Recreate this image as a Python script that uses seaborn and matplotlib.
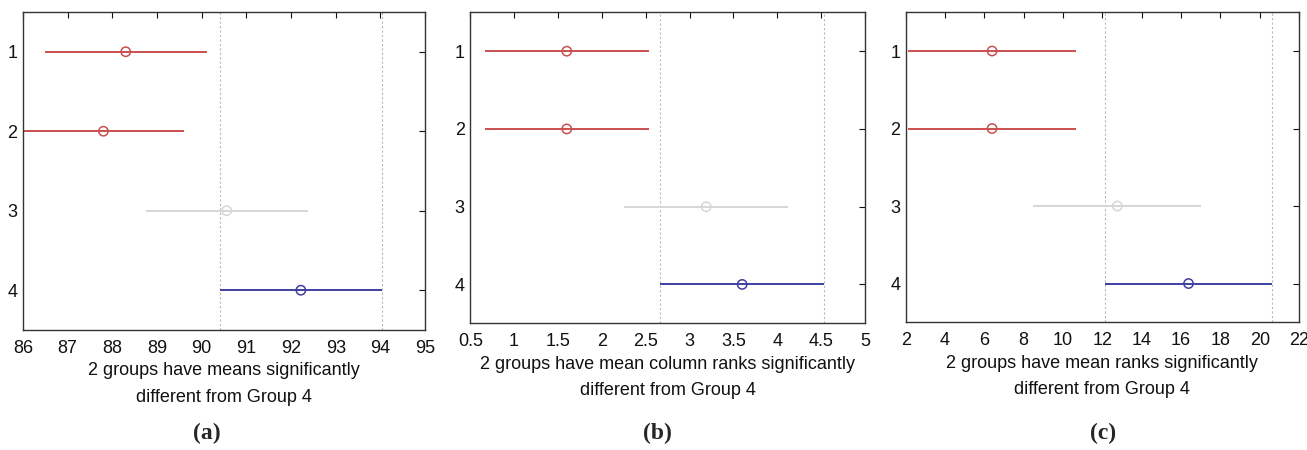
import matplotlib
matplotlib.use("Agg")
import numpy as np
import pandas as pd
import seaborn as sns
import matplotlib.pyplot as plt

# values (means and interval half widths per group)
groups = [1, 2, 3, 4]
a_means = [88.30, 87.80, 90.56, 92.22]
a_half = [1.81, 1.81, 1.81, 1.81]
b_means = [1.60, 1.60, 3.19, 3.60]
b_half = [0.935, 0.935, 0.935, 0.935]
c_means = [6.39, 6.39, 12.76, 16.38]
c_half = [4.27, 4.27, 4.27, 4.27]

a_ticks = [86, 87, 88, 89, 90, 91, 92, 93, 94, 95]
b_ticks = [0.5, 1, 1.5, 2, 2.5, 3, 3.5, 4, 4.5, 5]
c_ticks = [2, 4, 6, 8, 10, 12, 14, 16, 18, 20, 22]

xlabels = ["2 groups have means significantly\ndifferent from Group 4",
           "2 groups have mean column ranks significantly\ndifferent from Group 4",
           "2 groups have mean ranks significantly\ndifferent from Group 4"]
panel_tags = ["(a)", "(b)", "(c)"]

group_colors = {1: "#c9504f", 2: "#c9504f", 3: "#d6d6d6", 4: "#3f3fa3"}

sns.set_style("white")
plt.rcParams["font.family"] = ["Liberation Sans", "DejaVu Sans"]

fig = plt.figure(figsize=(13.07, 4.5), dpi=100)
rects = [[0.0176, 0.2667, 0.3076, 0.7067],
         [0.3598, 0.2816, 0.3020, 0.6910],
         [0.6930, 0.2838, 0.3009, 0.6889]]
tag_x = [207, 657, 1103]

panels = [(a_means, a_half, a_ticks), (b_means, b_half, b_ticks), (c_means, c_half, c_ticks)]
for i, (means, half, ticks) in enumerate(panels):
    ax = fig.add_axes(rects[i])
    df = pd.DataFrame({"group": groups, "mean": means, "half": half})
    df["lo"] = df["mean"] - df["half"]
    df["hi"] = df["mean"] + df["half"]

    # reference lines at the bounds of group 4
    g4 = df[df["group"] == 4].iloc[0]
    for xv in (g4["lo"], g4["hi"]):
        ax.axvline(xv, color="#b8b8b8", ls=(0, (2, 2)), lw=0.8, zorder=1)

    for _, r in df.iterrows():
        ax.hlines(r["group"], r["lo"], r["hi"], color=group_colors[r["group"]], lw=1.4, zorder=2)

    sns.scatterplot(data=df, x="mean", y="group", hue="group", palette=group_colors,
                    s=45, linewidth=1.1, legend=False, ax=ax, zorder=3)
    pts = ax.collections[-1]
    pts.set_edgecolors(pts.get_facecolors())
    pts.set_facecolors("none")

    ax.set_xlim(ticks[0], ticks[-1])
    ax.set_xticks(ticks)
    ax.set_xticklabels([f"{t:g}" for t in ticks])
    ax.set_ylim(4.5, 0.5)
    ax.set_yticks(groups)
    ax.set_yticklabels([str(g) for g in groups])
    ax.tick_params(direction="in", top=True, right=True, length=4, width=0.8,
                   labelsize=13, colors="#111111")
    ax.tick_params(axis="x", pad=7)
    ax.tick_params(axis="y", pad=4)
    for sp in ax.spines.values():
        sp.set_color("#333333")
        sp.set_linewidth(1.0)
    ax.set_xlabel(xlabels[i], fontsize=13, linespacing=1.75, labelpad=4, color="#111111")
    ax.set_ylabel("")
    fig.text(tag_x[i] / 1307, 1 - 433 / 450, panel_tags[i], ha="center", va="center",
             fontsize=17, fontweight="bold", family=["Liberation Serif", "DejaVu Serif"])

fig.savefig("out.png", dpi=100)
